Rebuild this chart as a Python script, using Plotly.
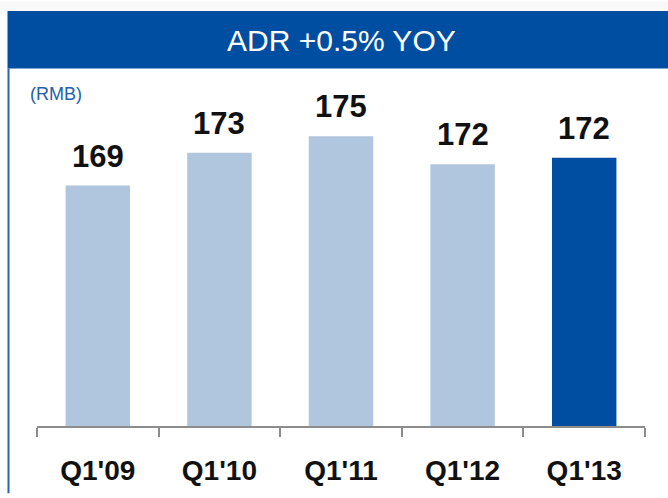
import plotly.graph_objects as go

categories = ["Q1'09", "Q1'10", "Q1'11", "Q1'12", "Q1'13"]
adr_values = [169.0, 173.0, 175.0, 171.6, 172.4]
value_labels = ["169", "173", "175", "172", "172"]
bar_colors = ["#AFC6DE", "#AFC6DE", "#AFC6DE", "#AFC6DE", "#004EA2"]

W, H = 668, 498
L, R, T, B = 37, 23, 100, 68
PW, PH = W - L - R, H - T - B

def px(x):
    return (x - L) / PW

def py(y):
    return (H - B - y) / PH

FONT = "Liberation Sans, Arial"

fig = go.Figure()
fig.add_trace(go.Bar(
    x=categories, y=adr_values,
    marker=dict(color=bar_colors, line=dict(width=0)),
    width=0.53, hoverinfo="skip",
))

for c, v, t in zip(categories, adr_values, value_labels):
    fig.add_annotation(x=c, y=v, text="<b>" + t + "</b>", showarrow=False,
                       yanchor="bottom", yshift=10,
                       font=dict(family=FONT, size=31, color="#111111"))

fig.add_shape(type="rect", xref="paper", yref="paper",
              x0=px(0), x1=px(668), y0=py(10), y1=py(0),
              fillcolor="#f8f8f8", line=dict(width=0), layer="below")
fig.add_shape(type="rect", xref="paper", yref="paper",
              x0=px(7.5), x1=px(668), y0=py(68), y1=py(10),
              fillcolor="#004EA2", line=dict(width=0), layer="below")
fig.add_shape(type="line", xref="paper", yref="paper",
              x0=px(8.5), x1=px(8.5), y0=py(498), y1=py(68),
              line=dict(color="#2A62B4", width=2))

fig.add_annotation(xref="paper", yref="paper", x=px(341), y=py(40),
                   xanchor="center", yanchor="middle",
                   text="ADR +0.5% YOY", showarrow=False,
                   font=dict(family=FONT, size=30, color="#ffffff"))
fig.add_annotation(xref="paper", yref="paper", x=px(28), y=py(94),
                   xanchor="left", yanchor="middle", text="(RMB)", showarrow=False,
                   font=dict(family=FONT, size=18, color="#2060B0"))

fig.update_layout(
    width=W, height=H,
    margin=dict(l=L, r=R, t=T, b=B, pad=0),
    paper_bgcolor="#ffffff", plot_bgcolor="rgba(0,0,0,0)",
    showlegend=False,
    xaxis=dict(type="category", range=[-0.5, 4.5], showgrid=False,
               showline=True, linecolor="#8c8c8c", linewidth=2,
               ticks="outside", tickson="boundaries", ticklen=9,
               tickcolor="#8c8c8c", tickwidth=2,
               tickprefix="<b>", ticksuffix="</b>",
               tickfont=dict(family=FONT, size=28, color="#111111"),
               ticklabelstandoff=18),
    yaxis=dict(range=[139.8, 179.4], visible=False, showgrid=False, zeroline=False),
    font=dict(family=FONT),
)

fig.write_html("out.html", config={"displayModeBar": False},
               post_script="document.body.style.margin='0';document.body.style.overflow='hidden';")
